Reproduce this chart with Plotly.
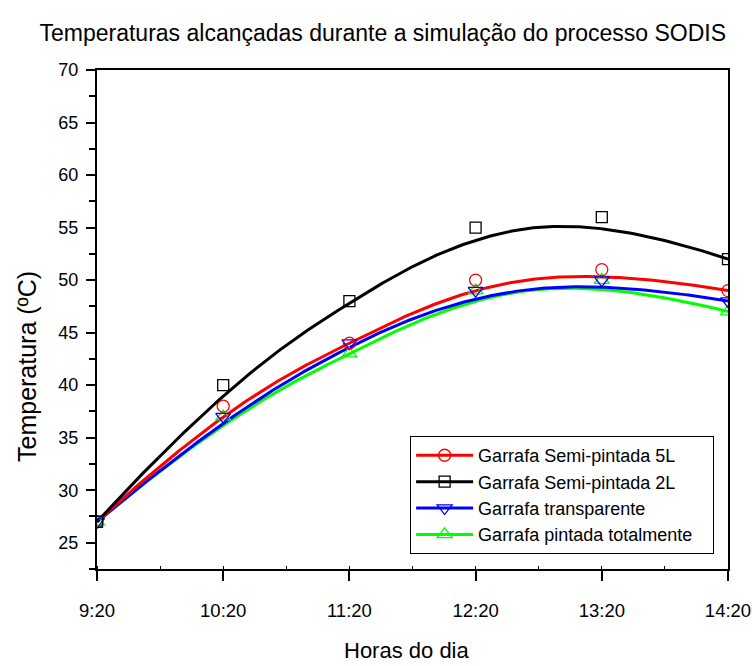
import numpy as np
import plotly.graph_objects as go

# Data
hours = [0, 1, 2, 3, 4, 5]
tick_labels = ["9:20", "10:20", "11:20", "12:20", "13:20", "14:20"]

semi5L = [27, 38, 44, 50, 51, 49]
semi2L = [27, 40, 48, 55, 56, 52]
transparente = [27, 37, 44, 49, 50, 48]
pintada = [27, 37, 43, 49, 50, 47]

series = [
    ("Garrafa Semi-pintada 5L", semi5L, "#FF0000", "circle-open", 12),
    ("Garrafa Semi-pintada 2L", semi2L, "#000000", "square-open", 11),
    ("Garrafa transparente", transparente, "#0000FF", "triangle-down-open", 13),
    ("Garrafa pintada totalmente", pintada, "#00FF00", "triangle-up-open", 13),
]

FONT = "Liberation Sans, Arial, sans-serif"


def bspline(px, py, k=3, n=300):
    """Clamped cubic B-spline using the data points as control points (Origin 'B-Spline' connect)."""
    px = np.asarray(px, float)
    py = np.asarray(py, float)
    m = len(px)
    inner = np.arange(1, m - k)
    knots = np.concatenate([np.zeros(k + 1), inner, np.full(k + 1, m - k)]).astype(float)
    t = np.linspace(0, m - k, n)
    t[-1] -= 1e-9

    def basis(i, d, tt):
        if d == 0:
            return ((knots[i] <= tt) & (tt < knots[i + 1])).astype(float)
        out = np.zeros_like(tt)
        den1 = knots[i + d] - knots[i]
        den2 = knots[i + d + 1] - knots[i + 1]
        if den1 > 0:
            out += (tt - knots[i]) / den1 * basis(i, d - 1, tt)
        if den2 > 0:
            out += (knots[i + d + 1] - tt) / den2 * basis(i + 1, d - 1, tt)
        return out

    B = np.array([basis(i, k, t) for i in range(m)])
    return B.T @ px, B.T @ py


fig = go.Figure()
draw_order = [3, 2, 0, 1]
for i in draw_order:
    name, ys, color, sym, size = series[i]
    cx, cy = bspline(hours, ys)
    fig.add_trace(go.Scatter(x=cx, y=cy, mode="lines",
                             line=dict(color=color, width=3),
                             showlegend=False, hoverinfo="skip"))
for i in draw_order:
    name, ys, color, sym, size = series[i]
    fig.add_trace(go.Scatter(x=hours, y=ys, mode="markers",
                             marker=dict(symbol=sym, size=size, color=color,
                                         line=dict(width=1.3, color=color)),
                             showlegend=False))
for name, ys, color, sym, size in series:
    fig.add_trace(go.Scatter(x=[None], y=[None], mode="lines+markers",
                             name=name + "\u00a0\u00a0\u00a0",
                             line=dict(color=color, width=3),
                             marker=dict(symbol=sym, size=size, color=color,
                                         line=dict(width=1.3, color=color))))

fig.update_layout(
    width=752, height=666,
    margin=dict(l=97, r=24, t=70, b=97),
    paper_bgcolor="white", plot_bgcolor="white",
    font=dict(family=FONT, color="black", size=18),
    title=dict(text="Temperaturas alcançadas durante a simulação do processo SODIS",
               x=0.509, xanchor="center", y=0.95, yanchor="middle",
               font=dict(size=23, family=FONT)),
    xaxis=dict(range=[0, 5], tickvals=hours, ticktext=tick_labels,
               showgrid=False, zeroline=False, automargin=False,
               showline=True, linecolor="black", linewidth=2, mirror=True,
               ticks="outside", ticklen=10, tickwidth=2, tickcolor="black",
               minor=dict(dtick=0.5, ticks="inside", ticklen=3, tickwidth=1, tickcolor="black"),
               tickfont=dict(size=18.5, family=FONT), ticklabelstandoff=14,
               ticklabeloverflow="allow"),
    yaxis=dict(range=[22.5, 70], tick0=25, dtick=5,
               showgrid=False, zeroline=False, automargin=False,
               showline=True, linecolor="black", linewidth=2, mirror=True,
               ticks="outside", ticklen=9, tickwidth=2, tickcolor="black",
               minor=dict(dtick=2.5, ticks="outside", ticklen=6, tickwidth=1.5, tickcolor="black"),
               tickfont=dict(size=18), ticklabelstandoff=4),
    annotations=[
        dict(text="Horas do dia", xref="paper", yref="paper",
             x=(407 - 97) / 631, y=-(650 - 569) / 499,
             xanchor="center", yanchor="middle", showarrow=False,
             font=dict(size=22, family=FONT)),
        dict(text="Temperatura (ºC)", xref="paper", yref="paper",
             x=-(97 - 27) / 631, y=(569 - 367) / 499, textangle=-90,
             xanchor="center", yanchor="middle", showarrow=False,
             font=dict(size=25, family=FONT)),
    ],
    legend=dict(x=0.978, y=0.03, xanchor="right", yanchor="bottom",
                bordercolor="black", borderwidth=1, bgcolor="white",
                font=dict(size=18, family=FONT), itemwidth=57,
                tracegroupgap=0),
)

fig.write_html("out.html")
